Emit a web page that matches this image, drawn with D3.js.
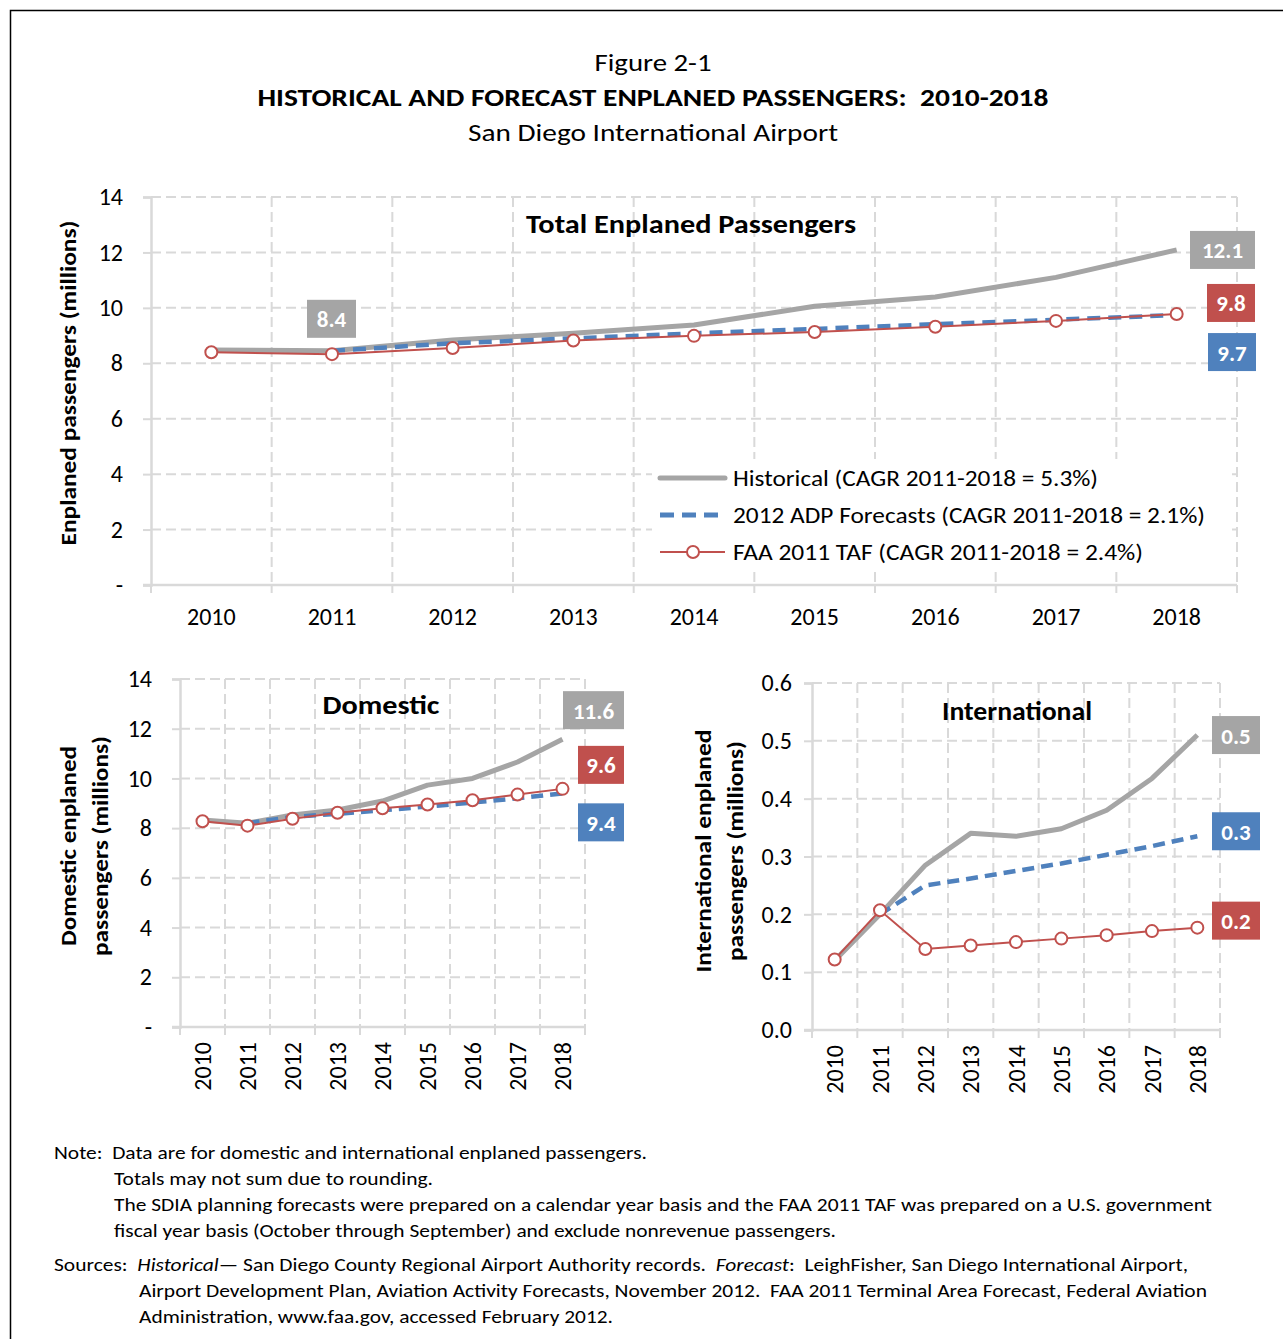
<!DOCTYPE html>
<html><head><meta charset="utf-8">
<script src="https://cdn.jsdelivr.net/npm/d3@7"></script>
<style>
html,body{margin:0;padding:0;background:#fff;}
text{font-family:Carlito, Calibri, Lato, "Open Sans", sans-serif;fill:#000;}
</style></head>
<body><svg id="c" width="1283" height="1339"></svg>
<script>
// ---------- DATA ----------
const years = [2010, 2011, 2012, 2013, 2014, 2015, 2016, 2017, 2018];

const totalHistorical = [8.48, 8.45, 8.84, 9.08, 9.38, 10.06, 10.39, 11.10, 12.09];
const totalADP        = [null, 8.45, 8.72, 8.90, 9.08, 9.24, 9.41, 9.57, 9.74];
const totalFAA        = [8.40, 8.33, 8.55, 8.82, 8.99, 9.13, 9.32, 9.53, 9.78];

const domHistorical = [8.33, 8.20, 8.53, 8.73, 9.09, 9.73, 10.00, 10.66, 11.58];
const domADP        = [null, 8.20, 8.45, 8.58, 8.72, 8.87, 9.03, 9.20, 9.40];
const domFAA        = [8.28, 8.10, 8.38, 8.62, 8.80, 8.95, 9.12, 9.35, 9.58];

const intlHistorical = [0.120, 0.200, 0.285, 0.340, 0.335, 0.348, 0.380, 0.435, 0.510];
const intlADP        = [null, 0.200, 0.250, 0.262, 0.275, 0.288, 0.303, 0.318, 0.335];
const intlFAA        = [0.122, 0.207, 0.140, 0.146, 0.152, 0.158, 0.164, 0.171, 0.177];

const paxTicks  = [0, 2, 4, 6, 8, 10, 12, 14];
const intlTicks = [0, 0.1, 0.2, 0.3, 0.4, 0.5, 0.6];

const legendLabels = [
  "Historical (CAGR 2011-2018 = 5.3%)",
  "2012 ADP Forecasts (CAGR 2011-2018 = 2.1%)",
  "FAA 2011 TAF (CAGR 2011-2018 = 2.4%)"
];
const totalEndLabels = ["12.1", "9.8", "9.7"];
const domEndLabels   = ["11.6", "9.6", "9.4"];
const intlEndLabels  = ["0.5", "0.3", "0.2"];
const total2011Label = "8.4";

const noteLines = [
  "Note:  Data are for domestic and international enplaned passengers.",
  "Totals may not sum due to rounding.",
  "The SDIA planning forecasts were prepared on a calendar year basis and the FAA 2011 TAF was prepared on a U.S. government",
  "fiscal year basis (October through September) and exclude nonrevenue passengers."
];

// ---------- STYLE ----------
const GRAY = "#a5a5a5", BLUE = "#4f81bd", RED = "#c0504d", GRID = "#d9d9d9";

const svg = d3.select("#c");

function fit(sel, w) {
  const n = sel.node();
  const L = n.getComputedTextLength();
  if (Math.abs(L - w) / w > 0.015) sel.attr("textLength", w).attr("lengthAdjust", "spacingAndGlyphs");
  return sel;
}

// frame
svg.append("rect").attr("x", 10.5).attr("y", 10.5).attr("width", 1400).attr("height", 1400)
  .attr("fill", "none").attr("stroke", "#000").attr("stroke-width", 1.5);

// titles
fit(svg.append("text").attr("x", 653).attr("y", 71).attr("text-anchor", "middle")
  .attr("font-size", 24).text("Figure 2-1"), 117);
fit(svg.append("text").attr("x", 653).attr("y", 106).attr("text-anchor", "middle")
  .attr("font-size", 24).attr("font-weight", "bold").style("white-space", "pre")
  .text("HISTORICAL AND FORECAST ENPLANED PASSENGERS:  2010-2018"), 791);
fit(svg.append("text").attr("x", 653).attr("y", 141).attr("text-anchor", "middle")
  .attr("font-size", 24).text("San Diego International Airport"), 370);

// ---------- generic chart ----------
function drawChart(o) {
  const g = svg.append("g");
  const x = d3.scaleBand().domain(years).range([o.x0, o.x1]);
  const y = d3.scaleLinear().domain([0, o.yMax]).range([o.y1, o.y0]);

  // gridlines
  g.append("g").selectAll("line").data(o.ticks.slice(1)).join("line")
    .attr("x1", o.x0).attr("x2", o.x1).attr("y1", d => y(d)).attr("y2", d => y(d))
    .attr("stroke", GRID).attr("stroke-width", 2).attr("stroke-dasharray", "10,5");
  const bounds = years.map(d => x(d)).concat([o.x1]);
  g.append("g").selectAll("line").data(bounds.slice(1)).join("line")
    .attr("x1", d => d).attr("x2", d => d).attr("y1", o.y0).attr("y2", o.y1)
    .attr("stroke", GRID).attr("stroke-width", 2).attr("stroke-dasharray", "10,5");

  // axes
  const yAxis = d3.axisLeft(y).tickValues(o.ticks).tickSize(8).tickFormat(o.fmt).tickPadding(o.yPad);
  const ya = g.append("g").attr("transform", `translate(${o.x0},0)`).call(yAxis);
  ya.select(".domain").attr("stroke", GRID).attr("stroke-width", 2.5);
  ya.selectAll(".tick line").attr("stroke", GRID).attr("stroke-width", 2);
  ya.selectAll(".tick text").attr("font-size", o.fs).attr("fill", "#000")
    .style("font-family", "Carlito, Calibri, Lato, 'Open Sans', sans-serif");

  g.append("line").attr("x1", o.x0 - 8).attr("x2", o.x1).attr("y1", o.y1).attr("y2", o.y1)
    .attr("stroke", GRID).attr("stroke-width", 2.5);
  g.append("g").selectAll("line").data(bounds).join("line")
    .attr("x1", d => d).attr("x2", d => d).attr("y1", o.y1).attr("y2", o.y1 + 8)
    .attr("stroke", GRID).attr("stroke-width", 2);

  // x labels
  const cx = d => x(d) + x.bandwidth() / 2;
  if (o.rotate) {
    g.append("g").selectAll("text").data(years).join("text")
      .attr("transform", d => `translate(${cx(d) + 0.36 * o.fs},${o.y1 + o.xLabOff}) rotate(-90)`)
      .attr("text-anchor", "end").attr("font-size", o.fs).text(d => d);
  } else {
    g.append("g").selectAll("text").data(years).join("text")
      .attr("x", cx).attr("y", o.y1 + o.xLabOff).attr("text-anchor", "middle")
      .attr("font-size", o.fs).text(d => d);
  }

  // lines
  const line = d3.line().defined(d => d[1] != null).x(d => cx(d[0])).y(d => y(d[1]));
  const pts = arr => years.map((yr, i) => [yr, arr[i]]);
  g.append("path").datum(pts(o.hist)).attr("d", line).attr("fill", "none")
    .attr("stroke", GRAY).attr("stroke-width", 5).attr("stroke-linejoin", "round");
  g.append("path").datum(pts(o.adp)).attr("d", line).attr("fill", "none")
    .attr("stroke", BLUE).attr("stroke-width", 4.5).attr("stroke-dasharray", o.dash);
  g.append("path").datum(pts(o.faa)).attr("d", line).attr("fill", "none")
    .attr("stroke", RED).attr("stroke-width", 2);
  g.append("g").selectAll("circle").data(pts(o.faa)).join("circle")
    .attr("cx", d => cx(d[0])).attr("cy", d => y(d[1])).attr("r", o.r)
    .attr("fill", "#fff").attr("stroke", RED).attr("stroke-width", 2);

  // chart title
  fit(g.append("text").attr("x", o.titleX).attr("y", o.titleY).attr("text-anchor", "middle")
    .attr("font-size", 26).attr("font-weight", "bold").text(o.title), o.titleW);

  // y label
  o.ylab.forEach((t, i) => {
    fit(g.append("text").attr("transform", `translate(${o.ylabX[i]},${o.ylabY}) rotate(-90)`)
      .attr("text-anchor", "middle").attr("font-size", 22).attr("font-weight", "bold").text(t), o.ylabW[i]);
  });

  return { x, y, cx, g };
}

function labelBox(g, text, color, xr, yc, w) {
  g.append("rect").attr("x", xr - w).attr("y", yc - 19).attr("width", w).attr("height", 38).attr("fill", color);
  g.append("text").attr("x", xr - w / 2).attr("y", yc + 8.5).attr("text-anchor", "middle")
    .attr("font-size", 23).attr("font-weight", "bold").style("fill", "#fff").text(text);
}

// ---------- TOTAL ----------
const T = drawChart({
  x0: 151, x1: 1237, y0: 197, y1: 585, yMax: 14, ticks: paxTicks,
  fmt: d => d === 0 ? "-" : d, yPad: 20, fs: 24, xLabOff: 40, rotate: false,
  hist: totalHistorical, adp: totalADP, faa: totalFAA, dash: "13,8", r: 6,
  title: "Total Enplaned Passengers", titleX: 691, titleY: 233, titleW: 330,
  ylab: ["Enplaned passengers (millions)"], ylabX: [76], ylabY: 383, ylabW: [325]
});
// legend (white background)
{
  const lg = T.g.append("g");
  lg.append("rect").attr("x", 652).attr("y", 459).attr("width", 580).attr("height", 110).attr("fill", "#fff");
  const rows = [478, 515, 552];
  lg.append("line").attr("x1", 660).attr("x2", 725).attr("y1", rows[0]).attr("y2", rows[0])
    .attr("stroke", GRAY).attr("stroke-width", 5).attr("stroke-linecap", "round");
  lg.append("line").attr("x1", 660).attr("x2", 725).attr("y1", rows[1]).attr("y2", rows[1])
    .attr("stroke", BLUE).attr("stroke-width", 5).attr("stroke-dasharray", "14,8");
  lg.append("line").attr("x1", 660).attr("x2", 725).attr("y1", rows[2]).attr("y2", rows[2])
    .attr("stroke", RED).attr("stroke-width", 2);
  lg.append("circle").attr("cx", 693).attr("cy", rows[2]).attr("r", 6).attr("fill", "#fff")
    .attr("stroke", RED).attr("stroke-width", 2);
  const widths = [365, 472, 410];
  legendLabels.forEach((t, i) => {
    fit(lg.append("text").attr("x", 733).attr("y", rows[i] + 8).attr("font-size", 23).text(t), widths[i]);
  });
}
labelBox(T.g, total2011Label, GRAY, T.cx(2011) + 24, T.y(totalHistorical[1]) - 32, 49);
labelBox(T.g, totalEndLabels[0], GRAY, 1255, T.y(totalHistorical[8]), 65);
labelBox(T.g, totalEndLabels[1], RED, 1255, T.y(totalFAA[8]) - 11, 48);
labelBox(T.g, totalEndLabels[2], BLUE, 1256, T.y(totalADP[8]) + 37, 48);

// ---------- DOMESTIC ----------
const D = drawChart({
  x0: 180, x1: 585, y0: 679, y1: 1027, yMax: 14, ticks: paxTicks,
  fmt: d => d === 0 ? "-" : d, yPad: 20, fs: 24, xLabOff: 15, rotate: true,
  hist: domHistorical, adp: domADP, faa: domFAA, dash: "12,7", r: 6,
  title: "Domestic", titleX: 381, titleY: 714, titleW: 117,
  ylab: ["Domestic enplaned", "passengers (millions)"], ylabX: [76, 108], ylabY: 846, ylabW: [200, 220]
});
labelBox(D.g, domEndLabels[0], GRAY, 624, D.y(domHistorical[8]) - 29, 61);
labelBox(D.g, domEndLabels[1], RED, 624, D.y(domFAA[8]) - 24, 46);
labelBox(D.g, domEndLabels[2], BLUE, 624, D.y(domADP[8]) + 29, 46);

// ---------- INTERNATIONAL ----------
const I = drawChart({
  x0: 812, x1: 1220, y0: 683, y1: 1030, yMax: 0.6, ticks: intlTicks,
  fmt: d3.format(".1f"), yPad: 12, fs: 24, xLabOff: 15, rotate: true,
  hist: intlHistorical, adp: intlADP, faa: intlFAA, dash: "12,7", r: 6,
  title: "International", titleX: 1017, titleY: 720, titleW: 150,
  ylab: ["International enplaned", "passengers (millions)"], ylabX: [711, 743], ylabY: 851, ylabW: [243, 220]
});
labelBox(I.g, intlEndLabels[0], GRAY, 1260, I.y(intlHistorical[8]), 48);
labelBox(I.g, intlEndLabels[1], BLUE, 1260, I.y(intlADP[8]) - 5, 48);
labelBox(I.g, intlEndLabels[2], RED, 1260, I.y(intlFAA[8]) - 7, 48);

// ---------- NOTES ----------
const noteG = svg.append("g").attr("font-size", 18.5);
const noteX = [54, 114, 114, 114], noteY = [1159, 1185, 1211, 1237], noteW = [593, 319, 1098, 722];
noteLines.forEach((t, i) => {
  fit(noteG.append("text").attr("x", noteX[i]).attr("y", noteY[i]).attr("font-size", 19)
    .style("white-space", "pre").text(t), noteW[i]);
});
const s1 = noteG.append("text").attr("x", 54).attr("y", 1271).attr("font-size", 19).style("white-space", "pre");
s1.append("tspan").text("Sources:  ");
s1.append("tspan").attr("font-style", "italic").text("Historical");
s1.append("tspan").text("— San Diego County Regional Airport Authority records.  ");
s1.append("tspan").attr("font-style", "italic").text("Forecast");
s1.append("tspan").text(":  LeighFisher, San Diego International Airport,");
fit(s1, 1134);
fit(noteG.append("text").attr("x", 139).attr("y", 1297).attr("font-size", 19).style("white-space", "pre")
  .text("Airport Development Plan, Aviation Activity Forecasts, November 2012.  FAA 2011 Terminal Area Forecast, Federal Aviation"), 1068);
fit(noteG.append("text").attr("x", 139).attr("y", 1323).attr("font-size", 19)
  .text("Administration, www.faa.gov, accessed February 2012."), 474);
</script></body></html>
